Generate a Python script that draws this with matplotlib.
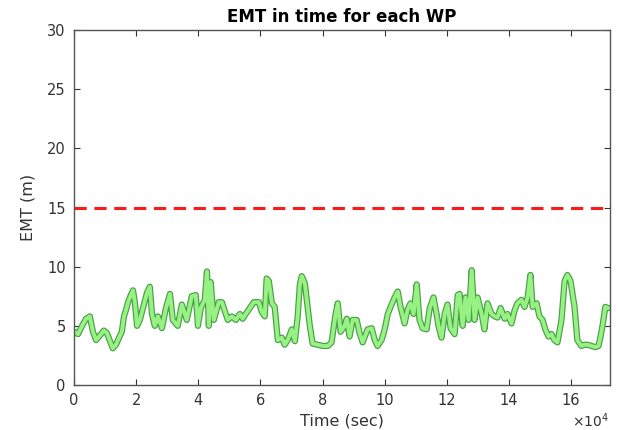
import numpy as np
import matplotlib
matplotlib.use('Agg')
import matplotlib.pyplot as plt
from matplotlib.ticker import FuncFormatter

# time in thousands of seconds, EMT in metres
t_ks = [0.0, 1.3, 2.6, 3.9, 5.1, 6.1, 7.1, 8.4, 9.6, 10.6, 11.6, 12.5, 13.5, 14.5,
        15.4, 16.1, 16.7, 17.4, 18.3, 19.0, 19.6, 20.3, 21.2, 22.2, 23.5, 24.4,
        25.1, 26.0, 27.0, 28.3, 29.6, 30.9, 31.8, 33.4, 34.7, 36.3, 37.9, 39.2,
        39.9, 40.8, 42.1, 42.8, 43.4, 44.0, 45.0, 46.6, 47.6, 48.5, 49.5, 50.8,
        52.1, 53.4, 54.3, 55.0, 56.6, 57.9, 59.5, 60.4, 61.4, 62.0, 62.7, 63.7,
        64.6, 65.6, 66.9, 67.8, 68.8, 70.1, 71.1, 72.0, 72.7, 73.3, 74.3, 75.2,
        75.9, 76.8, 78.4, 80.1, 81.7, 82.9, 84.2, 84.9, 85.8, 87.1, 87.8, 88.7,
        89.7, 91.0, 91.9, 92.9, 94.5, 95.8, 96.8, 97.7, 99.0, 100.0, 101.0,
        102.2, 103.2, 104.2, 105.1, 106.4, 107.4, 108.3, 109.3, 110.3, 111.2,
        112.2, 113.5, 114.5, 115.7, 116.7, 117.3, 118.3, 119.3, 120.2, 121.2,
        122.5, 123.5, 124.1, 125.1, 126.0, 127.0, 128.0, 128.9, 129.9, 131.2,
        132.1, 133.1, 134.4, 135.4, 136.3, 137.3, 138.6, 139.5, 140.8, 141.8,
        142.7, 144.0, 145.0, 146.0, 146.9, 147.6, 148.9, 149.8, 150.8, 151.7,
        152.7, 153.7, 154.6, 155.6, 156.9, 157.9, 158.8, 159.8, 161.1, 162.0,
        163.3, 164.3, 165.3, 166.5, 167.8, 168.8, 169.4, 170.1, 171.0, 172.0]
emt = [4.5, 4.3, 5.0, 5.6, 5.8, 4.5, 3.8, 4.2, 4.6, 4.4, 3.7, 3.1, 3.4, 4.0,
       4.5, 5.8, 6.3, 7.0, 7.6, 8.0, 7.0, 5.0, 5.5, 6.5, 7.8, 8.3,
       6.0, 5.0, 5.8, 4.8, 6.5, 7.7, 5.5, 5.0, 6.8, 5.5, 7.5, 7.6,
       5.0, 6.5, 7.2, 9.6, 5.0, 8.7, 5.5, 7.0, 7.0, 6.3, 5.5, 5.8,
       5.5, 6.0, 5.6, 5.9, 6.5, 7.0, 7.0, 6.2, 5.8, 9.0, 8.8, 6.9,
       6.6, 3.8, 4.0, 3.4, 3.8, 4.7, 3.7, 5.8, 8.5, 9.2, 8.6, 6.6,
       5.0, 3.5, 3.4, 3.3, 3.3, 3.6, 6.0, 6.9, 4.5, 5.0, 5.6, 4.1,
       5.5, 5.5, 4.4, 3.6, 4.7, 4.8, 3.8, 3.3, 3.8, 4.7, 6.0,
       6.8, 7.4, 7.9, 6.6, 5.2, 6.4, 6.9, 6.0, 8.5, 5.5,
       4.8, 4.7, 6.5, 7.4, 6.0, 5.0, 4.0, 6.0, 6.8, 4.8,
       4.3, 7.6, 7.7, 5.0, 7.4, 5.5, 9.7, 5.5, 7.4, 6.0,
       4.7, 6.9, 6.0, 5.8, 5.7, 6.5, 5.6, 6.0, 5.2, 6.3,
       6.9, 7.2, 6.6, 7.4, 9.3, 6.6, 6.9, 5.8, 5.5, 4.7,
       4.1, 4.3, 3.8, 3.6, 5.5, 8.8, 9.3, 8.8, 6.6, 3.8,
       3.3, 3.4, 3.4, 3.3, 3.2, 3.3, 4.0, 5.0, 6.6, 6.5]
emt_limit = 15

t = np.array(t_ks) * 1000.0

fig = plt.figure(figsize=(6.18, 4.30), dpi=100)
ax = fig.add_axes([0.1197, 0.1047, 0.8673, 0.8253])

ax.plot(t, emt, color='#4a9e4a', lw=4.5, solid_joinstyle='round', solid_capstyle='round')
ax.plot(t, emt, color='#98f283', lw=2.8, solid_joinstyle='round', solid_capstyle='round')
ax.axhline(emt_limit, color='#ff1a1a', lw=2.2, ls=(0, (4, 2.5)))

ax.set_xlim(0, 172500)
ax.set_ylim(0, 30)
ax.set_xticks(np.arange(0, 170000, 20000))
ax.set_yticks(np.arange(0, 31, 5))
ax.xaxis.set_major_formatter(FuncFormatter(lambda v, p: '%d' % round(v / 1e4)))

ax.tick_params(direction='in', top=True, right=True, length=4, width=0.8,
               labelsize=10.5, colors='#333333', pad=6)
for s in ax.spines.values():
    s.set_color('#555555')
    s.set_linewidth(1.0)

ax.set_title('EMT in time for each WP', fontsize=12, fontweight='bold', pad=6)
ax.set_xlabel('Time (sec)', fontsize=11.5, color='#333333', labelpad=4)
ax.set_ylabel('EMT (m)', fontsize=11.5, color='#333333', labelpad=8)
fig.text(0.925, 0.008, r'$\times 10^4$', fontsize=10, color='#333333')

fig.savefig('out.png', dpi=100)
